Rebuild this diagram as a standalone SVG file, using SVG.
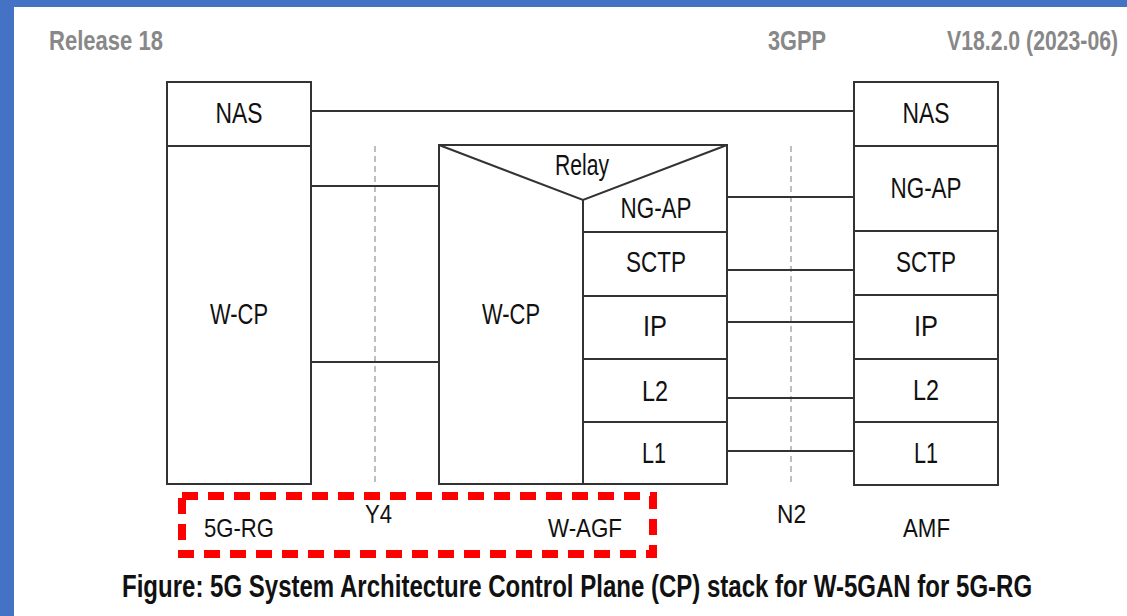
<svg xmlns="http://www.w3.org/2000/svg" width="1127" height="616" viewBox="0 0 1127 616">
<style>
.box{fill:#fff;stroke:#333;stroke-width:2}
.ln{stroke:#333;stroke-width:2;fill:none}
.dash{stroke:#aaa;stroke-width:1.5;stroke-dasharray:6 4;fill:none}
.lbl{font-family:"Liberation Sans",Arial,sans-serif;font-size:29px;fill:#111;text-anchor:middle}
.sm{font-family:"Liberation Sans",Arial,sans-serif;font-size:26px;fill:#111}
.hdr{font-family:"Liberation Sans",Arial,sans-serif;font-size:28px;font-weight:bold;fill:#888}
.cap{font-family:"Liberation Sans",Arial,sans-serif;font-size:31px;font-weight:bold;fill:#111}
</style>
<rect x="0" y="0" width="1127" height="616" fill="#fff"/>
<rect x="0" y="0" width="14" height="616" fill="#4472c4"/>
<rect x="0" y="0" width="1127" height="7" fill="#4472c4"/>

<g id="header">
<text class="hdr" x="49" y="50" textLength="114" lengthAdjust="spacingAndGlyphs">Release 18</text>
<text class="hdr" x="768" y="50" textLength="58" lengthAdjust="spacingAndGlyphs">3GPP</text>
<text class="hdr" transform="translate(947,50) scale(0.757,1)" x="0" y="0" textLength="226" lengthAdjust="spacingAndGlyphs">V18.2.0 (2023-06)</text>
</g>

<g id="interfaces">
<line class="dash" x1="375" y1="146" x2="375" y2="484"/>
<line class="dash" x1="791" y1="146" x2="791" y2="484"/>
</g>

<g id="connectors">
<line class="ln" x1="311" y1="111" x2="854" y2="111"/>
<line class="ln" x1="311" y1="186" x2="439" y2="186"/>
<line class="ln" x1="311" y1="362" x2="439" y2="362"/>
<line class="ln" x1="727" y1="197" x2="854" y2="197"/>
<line class="ln" x1="727" y1="270" x2="854" y2="270"/>
<line class="ln" x1="727" y1="322" x2="854" y2="322"/>
<line class="ln" x1="727" y1="398" x2="854" y2="398"/>
<line class="ln" x1="727" y1="451" x2="854" y2="451"/>
</g>

<g id="rg-stack">
<rect class="box" x="167" y="82" width="144" height="402"/>
<line class="ln" x1="167" y1="146" x2="311" y2="146"/>
<text class="lbl" x="239" y="123" textLength="47" lengthAdjust="spacingAndGlyphs">NAS</text>
<text class="lbl" x="239" y="324" textLength="58" lengthAdjust="spacingAndGlyphs">W-CP</text>
</g>

<g id="agf-stack">
<rect class="box" x="439" y="145" width="288" height="339"/>
<polyline class="ln" points="439,145 583,200 727,145"/>
<line class="ln" x1="583" y1="200" x2="583" y2="484"/>
<line class="ln" x1="583" y1="232" x2="727" y2="232"/>
<line class="ln" x1="583" y1="296" x2="727" y2="296"/>
<line class="ln" x1="583" y1="359" x2="727" y2="359"/>
<line class="ln" x1="583" y1="422" x2="727" y2="422"/>
<text class="lbl" x="582" y="175" textLength="54" lengthAdjust="spacingAndGlyphs">Relay</text>
<text class="lbl" x="511" y="324" textLength="58" lengthAdjust="spacingAndGlyphs">W-CP</text>
<text class="lbl" x="656" y="218" textLength="71" lengthAdjust="spacingAndGlyphs">NG-AP</text>
<text class="lbl" x="656" y="272" textLength="60" lengthAdjust="spacingAndGlyphs">SCTP</text>
<text class="lbl" x="655" y="336" textLength="24" lengthAdjust="spacingAndGlyphs">IP</text>
<text class="lbl" x="655" y="401" textLength="26" lengthAdjust="spacingAndGlyphs">L2</text>
<text class="lbl" x="654" y="463" textLength="24" lengthAdjust="spacingAndGlyphs">L1</text>
</g>

<g id="amf-stack">
<rect class="box" x="854" y="82" width="144" height="403"/>
<line class="ln" x1="854" y1="146" x2="998" y2="146"/>
<line class="ln" x1="854" y1="231" x2="998" y2="231"/>
<line class="ln" x1="854" y1="295" x2="998" y2="295"/>
<line class="ln" x1="854" y1="359" x2="998" y2="359"/>
<line class="ln" x1="854" y1="422" x2="998" y2="422"/>
<text class="lbl" x="926" y="123" textLength="47" lengthAdjust="spacingAndGlyphs">NAS</text>
<text class="lbl" x="926" y="198" textLength="71" lengthAdjust="spacingAndGlyphs">NG-AP</text>
<text class="lbl" x="926" y="272" textLength="60" lengthAdjust="spacingAndGlyphs">SCTP</text>
<text class="lbl" x="926" y="336" textLength="24" lengthAdjust="spacingAndGlyphs">IP</text>
<text class="lbl" x="926" y="400" textLength="26" lengthAdjust="spacingAndGlyphs">L2</text>
<text class="lbl" x="926" y="463" textLength="24" lengthAdjust="spacingAndGlyphs">L1</text>
</g>

<g id="highlight">
<rect x="182" y="496" width="471" height="58" fill="none" stroke="#ff0000" stroke-width="8" stroke-dasharray="16 10"/>
</g>

<g id="labels">
<text class="sm" x="204" y="537" textLength="70" lengthAdjust="spacingAndGlyphs">5G-RG</text>
<text class="sm" x="365" y="523" textLength="27" lengthAdjust="spacingAndGlyphs">Y4</text>
<text class="sm" x="548" y="537" textLength="74" lengthAdjust="spacingAndGlyphs">W-AGF</text>
<text class="sm" x="777" y="523" textLength="29" lengthAdjust="spacingAndGlyphs">N2</text>
<text class="sm" x="903" y="537" textLength="47" lengthAdjust="spacingAndGlyphs">AMF</text>
</g>

<g id="caption">
<text class="cap" transform="translate(122,597) scale(0.66,1)" x="0" y="0" textLength="1379" lengthAdjust="spacingAndGlyphs">Figure: 5G System Architecture Control Plane (CP) stack for W-5GAN for 5G-RG</text>
</g>
</svg>
